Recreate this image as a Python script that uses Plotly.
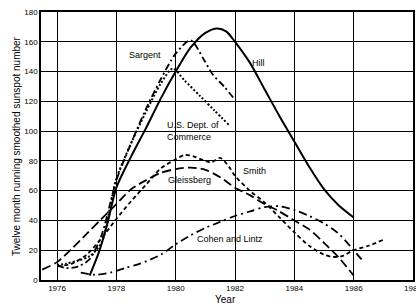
import plotly.graph_objects as go

# ---- data ----
hill_year = [1977.1, 1977.4, 1977.7, 1978.0, 1978.5, 1979.0, 1979.5, 1980.0, 1980.5, 1981.0, 1981.4, 1981.7, 1982.0, 1982.5, 1983.0, 1983.5, 1984.0, 1984.5, 1985.0, 1985.5, 1986.0]
hill_val = [3, 18, 38, 62, 83, 102, 122, 140, 156, 166, 169, 167, 160, 146, 128, 110, 93, 76, 61, 50, 42]

sargent_year = [1976.0, 1976.3, 1976.7, 1977.1, 1977.5, 1977.8, 1978.0, 1978.5, 1979.0, 1979.5, 1980.0, 1980.5, 1980.95, 1981.25, 1981.63, 1982.0]
sargent_val = [10, 8, 9, 14, 30, 52, 67, 92, 115, 135, 152, 161, 148, 138, 130, 121]

commerce_year = [1976.0, 1976.3, 1976.7, 1977.1, 1977.5, 1977.8, 1978.0, 1978.5, 1979.0, 1979.5, 1979.9, 1980.3, 1980.8, 1981.3, 1981.8]
commerce_val = [10, 11, 13, 16, 25, 50, 68, 92, 113, 132, 142, 134, 124, 114, 104]

smith_year = [1976.0, 1976.5, 1977.0, 1977.5, 1978.0, 1978.5, 1979.0, 1979.5, 1980.0, 1980.3, 1980.6, 1981.0, 1981.2, 1981.5, 1981.8, 1982.0, 1982.5, 1983.0, 1983.5, 1984.0, 1984.5, 1985.0, 1985.3, 1985.6, 1986.0, 1986.5, 1987.0]
smith_val = [9, 11, 17, 28, 41, 53, 64, 75, 81, 84, 83, 80, 79, 82, 76, 70, 60, 52, 42, 32, 23, 17, 15.5, 16, 20, 23, 27]

gleissberg_year = [1975.5, 1976.0, 1976.5, 1977.0, 1977.5, 1978.0, 1978.5, 1979.0, 1979.5, 1980.0, 1980.5, 1981.0, 1981.5, 1982.0, 1982.5, 1983.0, 1983.5, 1984.0, 1984.5, 1985.0, 1985.5, 1986.0]
gleissberg_val = [7, 12, 21, 31, 41, 51, 61, 67, 72, 74.5, 75.5, 74, 69, 62, 57, 51, 46, 40, 34, 25, 15, 3]

cohen_year = [1976.8, 1977.3, 1977.8, 1978.3, 1978.8, 1979.5, 1980.0, 1980.5, 1981.0, 1981.5, 1982.0, 1982.5, 1983.0, 1983.5, 1984.0, 1984.5, 1985.0, 1985.5, 1986.0, 1986.3]
cohen_val = [5, 3.5, 5, 8, 11, 17, 24, 30, 35, 39, 43, 46, 49, 49.5, 47, 43, 38, 31, 20, 13]

x_ticks = [1976, 1978, 1980, 1982, 1984, 1986]
x_tick_cut = 1988
y_ticks = [0, 20, 40, 60, 80, 100, 120, 140, 160, 180]

labels = ["Sargent", "Hill", "U.S. Dept. of<br>Commerce", "Smith", "Gleissberg", "Cohen and Lintz"]
label_year = [1978.95, 1982.8, 1980.6, 1982.64, 1980.45, 1981.83]
label_val = [151, 146, 100, 73, 67, 27.5]

FONT = "Liberation Sans, Arial, sans-serif"

series = [
    (hill_year, hill_val, "solid", 2.0),
    (sargent_year, sargent_val, "7px,3px,2px,3px", 1.8),
    (commerce_year, commerce_val, "2px,2px", 2.0),
    (smith_year, smith_val, "4px,3px", 1.8),
    (gleissberg_year, gleissberg_val, "9px,4px", 1.8),
    (cohen_year, cohen_val, "8px,4px,2px,4px", 1.8),
]

fig = go.Figure()
for xs, ys, dash, w in series:
    fig.add_trace(go.Scatter(x=xs, y=ys, mode="lines",
                             line=dict(color="black", width=w, dash=dash,
                                       shape="spline", smoothing=0.8),
                             showlegend=False, hoverinfo="skip"))

for t, xv, yv in zip(labels, label_year, label_val):
    fig.add_annotation(x=xv, y=yv, text=t, showarrow=False,
                       font=dict(family=FONT, size=9, color="black"),
                       align="left")

# partially visible last tick label (cut by the page edge in the reference)
fig.add_annotation(x=x_tick_cut, xref="x", yref="paper", y=-0.03,
                   text=str(x_tick_cut), showarrow=False,
                   xanchor="center", yanchor="middle",
                   font=dict(family=FONT, size=8, color="black"))

fig.add_annotation(xref="paper", yref="paper", x=-0.067, y=0.5,
                   xanchor="center", yanchor="middle",
                   text="Twelve month running smoothed sunspot number",
                   textangle=-90, showarrow=False,
                   font=dict(family=FONT, size=10, color="black"))
fig.add_annotation(xref="paper", yref="paper", x=0.495, y=-0.071,
                   xanchor="center", yanchor="middle",
                   text="Year", showarrow=False,
                   font=dict(family=FONT, size=10, color="black"))

axis_common = dict(showgrid=True, gridcolor="black", gridwidth=1,
                   showline=True, linecolor="black", linewidth=1.5, mirror=True,
                   ticks="", zeroline=False, automargin=False,
                   tickfont=dict(family=FONT, size=8, color="black"))

fig.update_xaxes(range=[1975.46, 1988], tickvals=x_ticks + [x_tick_cut],
                 ticktext=[str(v) for v in x_ticks] + [""], **axis_common)
fig.update_yaxes(range=[0, 180], tickvals=y_ticks, **axis_common)

fig.update_layout(width=416, height=304,
                  margin=dict(l=41, r=3, t=12, b=24),
                  plot_bgcolor="white", paper_bgcolor="white",
                  font=dict(family=FONT, color="black"))

fig.write_html("out.html", config={"displayModeBar": False},
               post_script="document.body.style.margin='0';document.body.style.overflow='hidden';")
